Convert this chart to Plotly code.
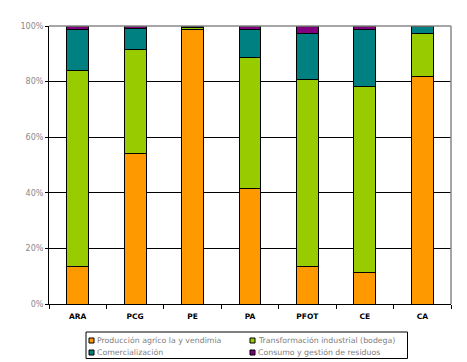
import plotly.graph_objects as go

categories = ["ARA", "PCG", "PE", "PA", "PFOT", "CE", "CA"]
produccion = [13.6, 54.0, 98.8, 41.6, 13.6, 11.4, 81.9]
transformacion = [70.5, 37.6, 0.5, 47.1, 67.2, 66.9, 15.5]
comercializacion = [14.7, 7.4, 0.4, 10.1, 16.6, 20.5, 2.6]
consumo = [1.2, 1.0, 0.3, 1.2, 2.6, 1.2, 0.0]
y_ticks = [0, 20, 40, 60, 80, 100]
y_tick_labels = ["0%", "20%", "40%", "60%", "80%", "100%"]

series_names = ["Producción agríco la y vendimia", "Transformación industrial (bodega)",
                "Comercialización", "Consumo y gestión de residuos"]
series_values = [produccion, transformacion, comercializacion, consumo]
series_colors = ["#FF9900", "#99CC00", "#008080", "#800080"]

fig = go.Figure()
for name, vals, color in zip(series_names, series_values, series_colors):
    fig.add_trace(go.Bar(
        x=categories, y=vals, name=name,
        marker=dict(color=color, line=dict(color="black", width=1)),
        width=0.38, showlegend=False,
    ))

# Layout geometry (window pixels); page body adds an 8px offset
OFF = 8
W, H = 467, 362
PL, PR, PT, PB = 49, 451, 26, 304
PW, PH = PR - PL, PB - PT


def px(x):
    return (x - PL) / PW


def py(y):
    return (PB - y) / PH


shapes = [
    dict(type="line", xref="paper", yref="paper", x0=0, x1=1, y0=1, y1=1,
         line=dict(color="#888888", width=1.5)),
    dict(type="line", xref="paper", yref="paper", x0=1, x1=1, y0=0, y1=1,
         line=dict(color="#888888", width=1.5)),
    # legend box
    dict(type="rect", xref="paper", yref="paper", x0=px(86), x1=px(407.5), y0=py(358.5), y1=py(332),
         line=dict(color="black", width=1), fillcolor="white"),
]
annotations = []
col_x = [89, 250]
row_y = [340.5, 352.5]
for i, (name, color) in enumerate(zip(series_names, series_colors)):
    cx = col_x[i % 2]
    cy = row_y[i // 2]
    shapes.append(dict(type="rect", xref="paper", yref="paper",
                       x0=px(cx), x1=px(cx + 5), y0=py(cy + 2.5), y1=py(cy - 2.5),
                       line=dict(color="black", width=1), fillcolor=color))
    annotations.append(dict(xref="paper", yref="paper", x=px(cx + 6), y=py(cy),
                            xanchor="left", yanchor="middle", text=name, showarrow=False,
                            font=dict(size=7.8, color="#808080",
                                      family="DejaVu Sans, Verdana, sans-serif")))

fig.update_layout(
    barmode="stack",
    width=W - OFF, height=H - OFF,
    margin=dict(l=PL - OFF, r=W - PR, t=PT - OFF, b=H - PB, autoexpand=False),
    plot_bgcolor="white", paper_bgcolor="white",
    font=dict(family="DejaVu Sans, Verdana, sans-serif", size=8, color="#888888"),
    showlegend=False,
    xaxis=dict(
        showline=True, linecolor="black", linewidth=1,
        ticks="outside", tickson="boundaries", ticklen=4, tickcolor="black",
        tickfont=dict(size=7.5, color="black", family="DejaVu Sans, sans-serif", weight="bold"),
        ticklabelstandoff=5,
        showgrid=False, automargin=False,
    ),
    yaxis=dict(
        range=[0, 100], tickmode="array", tickvals=y_ticks, ticktext=y_tick_labels,
        showgrid=True, gridcolor="black", gridwidth=1,
        showline=True, linecolor="black", linewidth=1,
        ticks="outside", ticklen=3, tickcolor="black",
        tickfont=dict(size=8, color="#888888"),
        zeroline=False, automargin=False,
    ),
    shapes=shapes,
    annotations=annotations,
)

fig.write_html("out.html")
